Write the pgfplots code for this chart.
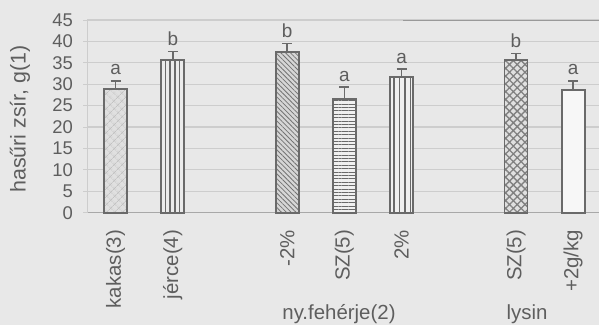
\documentclass[border=0pt]{standalone}
\usepackage{fontspec}
\setmainfont{Liberation Sans}
\usepackage{pgfplots}
\pgfplotsset{compat=1.18}
\usetikzlibrary{patterns,patterns.meta}

\definecolor{bg}{HTML}{E8E8E8}
\definecolor{gridc}{HTML}{CDCDCD}
\definecolor{axisc}{HTML}{A8A8A8}
\definecolor{barline}{HTML}{6A6A6A}
\definecolor{txt}{HTML}{5E5E5E}

\newcommand{\numfont}{\fontsize{18.5}{20}\selectfont}
\newcommand{\catfont}{\fontsize{20.5}{22}\selectfont}
\newcommand{\sigfont}{\fontsize{19}{20}\selectfont}

\pgfplotsset{
  mybar/.style={ybar, bar width=23bp, bar shift=0pt, draw=barline, line width=1.8pt,
    error bars/y dir=plus, error bars/y explicit,
    error bars/error bar style={barline, line width=1.5pt},
    error bars/error mark options={rotate=90, mark size=5bp, barline, line width=1.5pt}},
}

\begin{document}
\begin{tikzpicture}[x=1bp,y=1bp]
\fill[bg] (0,0) rectangle (599,325);
\useasboundingbox (0,0) rectangle (599,325);
\begin{axis}[
  at={(87bp,112.3bp)}, anchor=south west,
  scale only axis, width=514.8bp, height=192.7bp,
  xmin=-0.5, xmax=8.5, ymin=0, ymax=45,
  axis x line*=bottom, axis y line*=left,
  x axis line style={axisc, line width=1pt, -},
  y axis line style={gridc, line width=1pt, -},
  ytick={0,5,...,45},
  ymajorgrids, grid style={gridc, line width=1.2pt},
  xtick={0,1,3,4,5,7,8},
  xticklabels={kakas(3),jérce(4),-2\%,SZ(5),2\%,SZ(5),+2g/kg},
  major x tick style={draw=none},
  extra x ticks={-0.5,0.5,...,8.5},
  extra x tick labels={},
  extra x tick style={major tick length=5bp, tick align=outside, major tick style={axisc, line width=1pt}},
  major y tick style={gridc, line width=1pt},
  tick align=outside, major tick length=4bp,
  x tick label style={rotate=90, anchor=east, txt, font=\catfont, inner sep=0pt, xshift=-13bp},
  y tick label style={txt, font=\numfont, inner sep=0pt, xshift=-10bp},
  /pgf/number format/assume math mode=true,
  clip=false,
]
% kakas(3)
\addplot[mybar, fill=black!12, postaction={pattern={Hatch[angle=45, distance=6bp, line width=0.9bp]}, pattern color=black!24}]
  coordinates {(0,28.8) +- (0,2.0)};
% jérce(4)
\addplot[mybar, fill=black!8, postaction={pattern={Lines[angle=90, distance=4.6bp, line width=1.6bp]}, pattern color=barline}]
  coordinates {(1,35.7) +- (0,1.9)};
% -2%
\addplot[mybar, fill=black!16, postaction={pattern={Lines[angle=-45, distance=3.4bp, line width=0.8bp]}, pattern color=black!55}]
  coordinates {(3,37.6) +- (0,1.9)};
% SZ(5)
\addplot[mybar, fill=black!6, postaction={pattern={Lines[angle=0, distance=3.4bp, line width=0.9bp]}, pattern color=barline}]
  coordinates {(4,26.6) +- (0,2.7)};
% 2%
\addplot[mybar, fill=black!6, postaction={pattern={Lines[angle=90, distance=5.4bp, line width=1.6bp]}, pattern color=barline}]
  coordinates {(5,31.6) +- (0,1.9)};
% SZ(5) lysin
\addplot[mybar, fill=black!12, postaction={pattern={Hatch[angle=45, distance=5.5bp, line width=1.3bp]}, pattern color=black!50}]
  coordinates {(7,35.7) +- (0,1.5)};
% +2g/kg
\addplot[mybar, fill=black!3]
  coordinates {(8,28.7) +- (0,2.1)};

% significance letters
\addplot[draw=none, mark=none, nodes near coords, point meta=explicit symbolic,
  nodes near coords style={anchor=base, txt, font=\sigfont, inner sep=0pt, yshift=6bp}]
  coordinates {(0,30.8)[a] (1,37.6)[b] (3,39.5)[b] (4,29.3)[a] (5,33.5)[a] (7,37.2)[b] (8,30.8)[a]};

\draw[black!40, line width=1pt] (axis cs:5.02,45) -- (axis cs:8.5,45);
\end{axis}
\node[rotate=90, txt, font=\fontsize{21.5}{22}\selectfont] at (20,206) {hasűri zsír, g(1)};
\node[anchor=base, txt, font=\catfont] at (339,5.5) {ny.fehérje(2)};
\node[anchor=base, txt, font=\catfont] at (527,5.5) {lysin};
\end{tikzpicture}
\end{document}
